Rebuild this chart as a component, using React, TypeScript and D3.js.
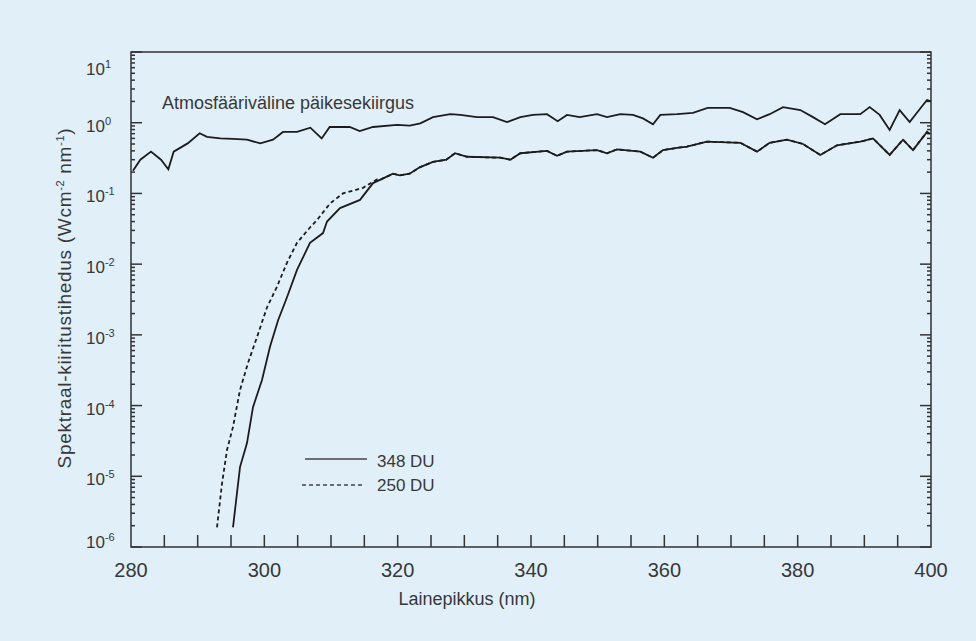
import React, { useEffect, useRef } from "react";
import * as d3 from "d3";

const W = 976;
const H = 641;

// Atmosfääriväline päikesekiirgus
const etrNm = [280.3, 281.4, 283.0, 284.5, 285.6, 286.4, 288.5, 290.3, 291.4, 293.4, 295.3, 297.4, 299.4, 301.3, 302.8, 304.9, 306.9, 308.6, 309.8, 312.8, 314.3, 316.3, 319.9, 321.8, 323.4, 325.3, 327.9, 329.4, 331.9, 334.3, 336.4, 338.4, 340.3, 342.4, 344.0, 345.4, 347.3, 349.9, 351.4, 353.4, 355.3, 356.8, 358.3, 359.4, 361.9, 364.3, 366.5, 369.8, 371.8, 373.9, 375.8, 377.8, 380.4, 382.3, 384.1, 386.4, 389.4, 390.8, 392.3, 393.8, 395.3, 396.8, 398.8, 399.4, 400];
const etrVal = [0.21, 0.3, 0.39, 0.3, 0.22, 0.39, 0.51, 0.71, 0.63, 0.6, 0.59, 0.575, 0.51, 0.575, 0.74, 0.74, 0.85, 0.6, 0.87, 0.87, 0.76, 0.87, 0.93, 0.91, 0.98, 1.2, 1.32, 1.29, 1.2, 1.2, 1.02, 1.2, 1.29, 1.32, 1.05, 1.29, 1.2, 1.32, 1.2, 1.32, 1.29, 1.15, 0.95, 1.29, 1.32, 1.38, 1.62, 1.62, 1.41, 1.12, 1.32, 1.66, 1.51, 1.2, 0.95, 1.32, 1.32, 1.66, 1.29, 0.79, 1.51, 1.02, 1.78, 2.09, 2.0];

// maanpinnan käyrien yhteinen osa (> ~317 nm)
const tailNm = [317.5, 319.3, 320.3, 321.8, 323.3, 325.3, 327.3, 328.6, 330.4, 335.4, 336.9, 338.4, 342.4, 343.9, 345.4, 349.9, 351.4, 352.9, 356.4, 358.3, 359.8, 361.9, 363.4, 366.4, 371.4, 373.9, 375.8, 378.4, 380.8, 383.4, 385.9, 389.4, 391.3, 393.8, 395.8, 397.3, 399.4, 399.8];
const tailVal = [0.158, 0.19, 0.18, 0.19, 0.234, 0.28, 0.3, 0.37, 0.33, 0.32, 0.3, 0.37, 0.4, 0.34, 0.39, 0.41, 0.37, 0.42, 0.39, 0.32, 0.41, 0.44, 0.46, 0.54, 0.52, 0.39, 0.52, 0.575, 0.5, 0.35, 0.48, 0.54, 0.6, 0.35, 0.575, 0.41, 0.74, 0.7];

// 348 DU
const du348Nm = [295.3, 296.35, 297.4, 298.3, 299.65, 300.85, 302.05, 303.4, 304.9, 306.85, 308.8, 309.4, 311.35, 314.35, 316.3];
const du348Val = [1.9e-6, 1.35e-5, 2.95e-5, 9.5e-5, 2.3e-4, 6.8e-4, 1.6e-3, 3.4e-3, 8.3e-3, 0.02, 0.0275, 0.04, 0.062, 0.081, 0.14];

// 250 DU
const du250Nm = [292.9, 293.65, 294.4, 295.3, 296.35, 297.55, 298.9, 300.4, 301.9, 303.4, 304.9, 306.85, 307.9, 309.85, 311.8, 314.8, 316.9];
const du250Val = [1.9e-6, 7.9e-6, 2.35e-5, 5e-5, 1.66e-4, 4e-4, 9.3e-4, 2.45e-3, 4.8e-3, 0.0105, 0.02, 0.033, 0.042, 0.072, 0.1, 0.12, 0.158];

const xLabels = [280, 300, 320, 340, 360, 380, 400];
const yExponents = [1, 0, -1, -2, -3, -4, -5, -6];

const FONT = "'Liberation Sans', Arial, sans-serif";
const INK = "#1c1c1c";
const TXT = "#383838";

const zip = (nm: number[], v: number[]) => nm.map((n, i) => [n, v[i]] as [number, number]);

export default function App() {
  const svgRef = useRef<SVGSVGElement>(null);

  useEffect(() => {
    document.body.style.margin = "0";
    const svg = d3.select(svgRef.current);
    svg.selectAll("*").remove();

    const left = 131, right = 931, top = 52, bottom = 547;
    const x = d3.scaleLinear().domain([280, 400]).range([left, right]);
    const y = d3.scaleLog().domain([1e-6, 10]).range([bottom, top]);

    svg.append("rect").attr("width", W).attr("height", H).attr("fill", "#e1eff9");

    // ticks on x (inward)
    const g = svg.append("g").attr("stroke", "#333").attr("stroke-width", 1.5);
    d3.range(285, 400, 5).forEach((t) => {
      g.append("line").attr("x1", x(t)).attr("x2", x(t)).attr("y1", bottom).attr("y2", bottom - 12);
    });

    // log ticks on both sides
    yExponents.forEach((e) => {
      const v = Math.pow(10, e);
      const yy = y(v);
      g.append("line").attr("x1", left).attr("x2", left + 11).attr("y1", yy).attr("y2", yy);
      g.append("line").attr("x1", right).attr("x2", right - 11).attr("y1", yy).attr("y2", yy);
      if (e > -6) {
        d3.range(2, 10).forEach((m) => {
          const ym = y(m * Math.pow(10, e - 1));
          g.append("line").attr("x1", left).attr("x2", left + 4).attr("y1", ym).attr("y2", ym);
          g.append("line").attr("x1", right).attr("x2", right - 4).attr("y1", ym).attr("y2", ym);
        });
      }
    });

    // frame
    svg
      .append("rect")
      .attr("x", left)
      .attr("y", top)
      .attr("width", right - left)
      .attr("height", bottom - top)
      .attr("fill", "none")
      .attr("stroke", "#333")
      .attr("stroke-width", 1.5);

    const line = d3
      .line<[number, number]>()
      .x((d) => x(d[0]))
      .y((d) => y(d[1]));

    const curves = svg.append("g").attr("fill", "none").attr("stroke", INK).attr("stroke-width", 1.8);
    curves.append("path").attr("d", line(zip(etrNm, etrVal)));
    curves
      .append("path")
      .attr("stroke-dasharray", "4 3")
      .attr("d", line(zip(du250Nm, du250Val).concat(zip(tailNm, tailVal))));
    curves.append("path").attr("d", line(zip(du348Nm, du348Val).concat(zip(tailNm, tailVal))));

    // x labels
    const txt = svg.append("g").attr("font-family", FONT).attr("fill", TXT);
    xLabels.forEach((t) => {
      txt.append("text").attr("x", x(t)).attr("y", 577).attr("text-anchor", "middle").attr("font-size", 20).text(t);
    });

    // y labels
    yExponents.forEach((e) => {
      const base = Math.max(75, Math.min(548, y(Math.pow(10, e)) + 9));
      const t = txt.append("text").attr("x", 86).attr("y", base).attr("font-size", 17);
      t.append("tspan").text("10");
      t.append("tspan").attr("dy", -7).attr("font-size", 11).text(e < 0 ? "-" + Math.abs(e) : String(e));
    });

    // axis titles
    txt
      .append("text")
      .attr("x", 467)
      .attr("y", 605)
      .attr("text-anchor", "middle")
      .attr("font-size", 18)
      .text("Lainepikkus (nm)");

    const yt = txt
      .append("text")
      .attr("transform", "translate(71,298) rotate(-90)")
      .attr("text-anchor", "middle")
      .attr("font-size", 19)
      .attr("letter-spacing", 0.7);
    yt.append("tspan").text("Spektraal-kiiritustihedus (Wcm");
    yt.append("tspan").attr("font-size", 11).attr("dy", -7).text("-2");
    yt.append("tspan").attr("dy", 7).text(" nm");
    yt.append("tspan").attr("font-size", 11).attr("dy", -7).text("-1");
    yt.append("tspan").attr("dy", 7).text(")");

    txt
      .append("text")
      .attr("x", 162)
      .attr("y", 109)
      .attr("font-size", 18)
      .text("Atmosfääriväline päikesekiirgus");

    // legend
    const lg = svg.append("g");
    lg.append("line").attr("x1", 305).attr("x2", 367).attr("y1", 459).attr("y2", 459).attr("stroke", "#444").attr("stroke-width", 1.5);
    lg.append("line")
      .attr("x1", 302)
      .attr("x2", 363)
      .attr("y1", 485)
      .attr("y2", 485)
      .attr("stroke", "#444")
      .attr("stroke-width", 1.5)
      .attr("stroke-dasharray", "4 3");
    lg.append("text").attr("x", 377).attr("y", 467).attr("font-family", FONT).attr("font-size", 17).attr("fill", TXT).text("348 DU");
    lg.append("text").attr("x", 377).attr("y", 491).attr("font-family", FONT).attr("font-size", 17).attr("fill", TXT).text("250 DU");
  }, []);

  return <svg ref={svgRef} width={W} height={H} style={{ display: "block" }} />;
}
